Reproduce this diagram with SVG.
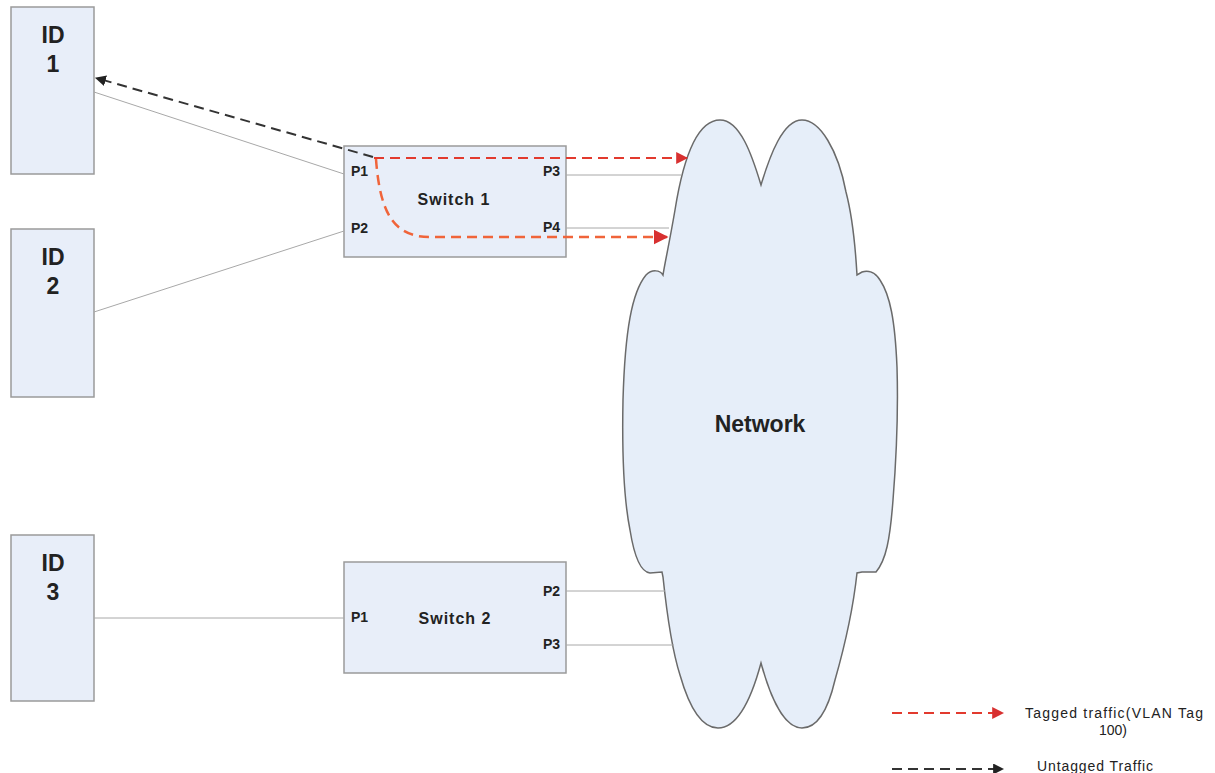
<svg xmlns="http://www.w3.org/2000/svg" width="1215" height="773" viewBox="0 0 1215 773">
<style>
.box{fill:#e8eef9;stroke:#9a9a9a;stroke-width:1.5}
.id{font-family:"Liberation Sans",Arial,sans-serif;font-size:23px;font-weight:bold;fill:#222;text-anchor:middle}
.port{font-family:"Liberation Sans",Arial,sans-serif;font-size:14px;font-weight:bold;fill:#222}
.sw{font-family:"Liberation Sans",Arial,sans-serif;font-size:16px;font-weight:bold;fill:#222;text-anchor:middle;letter-spacing:1px}
.link{fill:none;stroke:#a8a8a8;stroke-width:1}
.tag{fill:none;stroke:#e23a2e;stroke-width:2;stroke-dasharray:10 6}
.tag2{fill:none;stroke:#f0643a;stroke-width:2.5;stroke-dasharray:10 6}
.untag{fill:none;stroke:#333;stroke-width:2;stroke-dasharray:10 6}
.leg{font-family:"Liberation Sans",Arial,sans-serif;font-size:14px;fill:#222}
</style>
<defs>
<marker id="ar" viewBox="0 0 10 10" refX="9" refY="5" markerWidth="6" markerHeight="6" orient="auto" markerUnits="strokeWidth"><path d="M0,0 L10,5 L0,10 Z" fill="#d83030"/></marker>
<marker id="ab" viewBox="0 0 10 10" refX="9" refY="5" markerWidth="5.5" markerHeight="5.5" orient="auto" markerUnits="strokeWidth"><path d="M0,0 L10,5 L0,10 Z" fill="#222"/></marker>
</defs>

<g id="network">
<path d="M761,185 C752,155 740,120 720,120 C697,120 683,160 675,210 C669,245 665,262 663,275 C660,270 652,269 646,275 C632,292 625,330 623,400 C622,450 624,500 630,530 C634,555 640,572 650,573 L662,572 L663,577 C667,615 672,650 680,675 C690,710 703,728 718,728 C737,728 751,700 761,663 C771,700 785,728 802,728 C817,728 828,710 835,680 C845,645 853,610 857,573 L862,572 L876,572 C886,560 890,540 893,500 C897,450 898,400 897,367 C895,320 890,295 880,280 C875,272 868,270 862,272 L857,275 C855,240 852,215 846,192 C838,150 820,120 802,120 C783,120 770,155 761,185 Z" fill="#e6eef9" stroke="#6a6a6a" stroke-width="1.5"/>
<text x="760" y="432" font-family="'Liberation Sans',Arial,sans-serif" font-size="23" font-weight="bold" fill="#222" text-anchor="middle">Network</text>
</g>

<g id="id1"><rect class="box" x="11" y="7" width="83" height="167"/><text class="id" x="53" y="43">ID</text><text class="id" x="53" y="72">1</text></g>
<g id="id2"><rect class="box" x="11" y="229" width="83" height="168"/><text class="id" x="53" y="265">ID</text><text class="id" x="53" y="294">2</text></g>
<g id="id3"><rect class="box" x="11" y="535" width="83" height="166"/><text class="id" x="53" y="571">ID</text><text class="id" x="53" y="600">3</text></g>

<g id="switch1"><rect class="box" x="344" y="146" width="222" height="111"/>
<text class="port" x="351" y="176">P1</text><text class="port" x="351" y="233">P2</text>
<text class="port" x="543" y="176">P3</text><text class="port" x="543" y="232">P4</text>
<text class="sw" x="454" y="205">Switch  1</text></g>

<g id="switch2"><rect class="box" x="344" y="562" width="222" height="111"/>
<text class="port" x="351" y="622">P1</text><text class="port" x="543" y="596">P2</text><text class="port" x="543" y="649">P3</text>
<text class="sw" x="455" y="624">Switch  2</text></g>

<g id="connectors">
<line class="link" x1="94" y1="92" x2="344" y2="174"/>
<line class="link" x1="94" y1="312" x2="344" y2="231"/>
<line class="link" x1="94" y1="618" x2="344" y2="618"/>
<line class="link" x1="566" y1="175" x2="681" y2="175"/>
<line class="link" x1="566" y1="228" x2="669" y2="228"/>
<line class="link" x1="566" y1="591" x2="665" y2="591"/>
<line class="link" x1="566" y1="645" x2="674" y2="645"/>
<line class="untag" x1="373" y1="157" x2="96" y2="78" marker-end="url(#ab)"/>
<line class="tag" x1="374" y1="158" x2="687" y2="158" marker-end="url(#ar)"/>
<path class="tag2" d="M376,159 C380,215 395,237 430,237 L667,237" marker-end="url(#ar)"/>
</g>

<g id="legend">
<line class="tag" x1="892" y1="713" x2="1003" y2="713" marker-end="url(#ar)"/>
<text class="leg" x="1025" y="718" textLength="178">Tagged traffic(VLAN Tag</text>
<text class="leg" x="1113" y="735" text-anchor="middle">100)</text>
<line class="untag" x1="892" y1="769" x2="1003" y2="769" marker-end="url(#ab)"/>
<text class="leg" x="1037" y="771" textLength="116">Untagged Traffic</text>
</g>
</svg>
